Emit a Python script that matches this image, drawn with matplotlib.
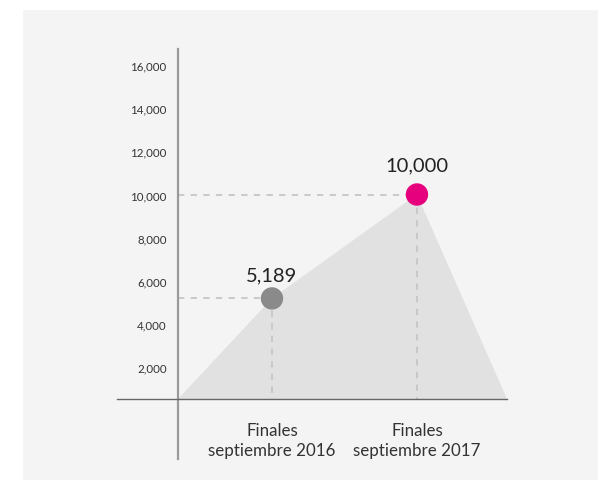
import matplotlib
matplotlib.use("Agg")
import matplotlib.pyplot as plt
from matplotlib.patches import Rectangle

plt.rcParams['font.family'] = ['Lato', 'DejaVu Sans']

categories = ["Finales\nseptiembre 2016", "Finales\nseptiembre 2017"]
cat_pos = [1, 2]
values = [5189, 10000]
value_labels = ["5,189", "10,000"]
point_colors = ["#8a8a8a", "#e6007e"]
yticks = [2000, 4000, 6000, 8000, 10000, 12000, 14000, 16000]
ytick_labels = ["2,000", "4,000", "6,000", "8,000", "10,000", "12,000", "14,000", "16,000"]

# layout of the axis cross (data units)
x_axis_pos = 0.352
x_end = 2.621
base = 532

fig = plt.figure(figsize=(6.08, 4.81), dpi=100)
fig.patch.set_facecolor("white")
fig.patches.append(Rectangle((23 / 608, 0), 575 / 608, 470 / 481,
                             transform=fig.transFigure, facecolor="#f4f4f4",
                             edgecolor="none", zorder=-5))

ax = fig.add_axes([117 / 608, 21 / 481, 390 / 608, 410 / 481])
ax.set_facecolor("none")
ax.set_xlim(-0.069, x_end)
ax.set_ylim(-2245, 16736)

# grey area under the points
poly_x = [x_axis_pos] + cat_pos + [x_end]
poly_y = [base] + values + [base]
ax.fill(poly_x, poly_y, color="#e1e1e1", lw=0, zorder=1)

# dashed guides
for x, v in zip(cat_pos, values):
    ax.plot([x_axis_pos, x], [v, v], color="#c6c6c6", lw=1.3, ls=(0, (3.5, 3.5)), zorder=2)
    ax.plot([x, x], [v, base], color="#c6c6c6", lw=1.3, ls=(0, (3.5, 3.5)), zorder=2)

ax.scatter(cat_pos, values, s=260, c=point_colors, zorder=3, linewidths=0)

offsets = [11, 15]
for x, v, lab, off in zip(cat_pos, values, value_labels, offsets):
    ax.annotate(lab, (x, v), xytext=(0, off), textcoords="offset points",
                ha="center", va="bottom", fontsize=14.5, color="#222222")

for s in ["top", "right"]:
    ax.spines[s].set_visible(False)
ax.spines["left"].set_position(("data", x_axis_pos))
ax.spines["left"].set_color("#9a9a9a")
ax.spines["left"].set_linewidth(1.6)
ax.spines["bottom"].set_position(("data", base))
ax.spines["bottom"].set_color("#666666")
ax.spines["bottom"].set_linewidth(1.0)

ax.set_yticks(yticks)
ax.set_yticklabels(ytick_labels)
ax.set_xticks(cat_pos)
ax.set_xticklabels(categories, linespacing=1.3)
ax.tick_params(axis="y", length=0, pad=8.2, labelsize=8.3, labelcolor="#333333")
ax.tick_params(axis="x", length=0, pad=16.5, labelsize=12.2, labelcolor="#333333")

fig.savefig("out.png", dpi=100, facecolor=fig.get_facecolor())
